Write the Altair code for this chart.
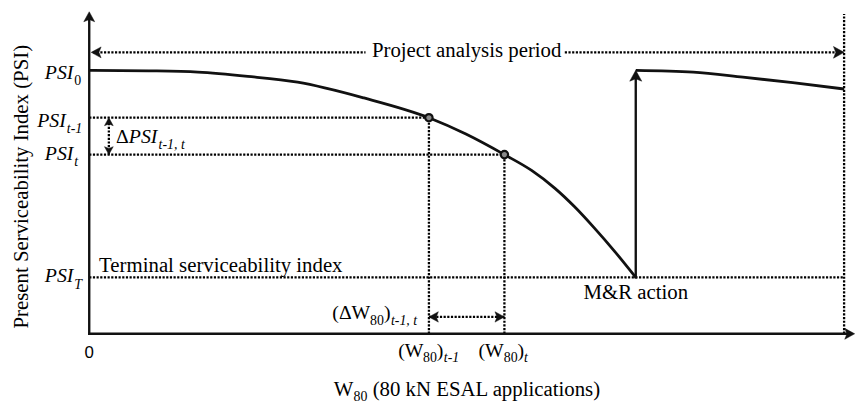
import altair as alt
import pandas as pd

# ------------------------------------------------------------------
# Values (schematic, arbitrary units)
# W80 axis: 0 = origin, 100 = end of the project analysis period
# PSI axis: 0 = the W80 axis, 100 = PSI0
# ------------------------------------------------------------------
w_decay = [0, 7.9, 14.4, 21.0, 27.6, 36.4, 45.0, 49.9, 55.0, 58.6, 61.7, 64.3, 66.9, 69.6, 72.4]
psi_decay = [100, 99.8, 99.3, 97.7, 95.5, 89.5, 82.0, 75.8, 68.0, 62.0, 55.2, 48.2, 40.2, 31.3, 21.4]
w_renewed = [72.4, 80.0, 86.6, 93.2, 100.0]
psi_renewed = [100, 99.3, 97.4, 95.3, 92.9]

psi_0, psi_t1, psi_t, psi_T = 100.0, 82.0, 68.0, 21.4
w_t1, w_t, w_mr, w_end = 45.0, 55.0, 72.4, 100.0
period_level = 106.8   # height of the "Project analysis period" arrow
period_gap = [36.6, 63.0]  # where the label interrupts the arrow
dw_level = 6.4         # height of the delta-W arrow
dpsi_at = 2.6          # position of the delta-PSI arrow
y_axis_top = 122.2
x_axis_end = 101.4

x_domain = [-10.761, 101.444]
y_domain = [-26.692, 122.932]

SERIF = "Liberation Serif"
INK = "#111111"

xs = alt.Scale(domain=x_domain, nice=False, zero=False)
ys = alt.Scale(domain=y_domain, nice=False, zero=False)


def enc_xy(ch):
    return ch.encode(
        x=alt.X("x:Q", scale=xs, axis=None),
        y=alt.Y("y:Q", scale=ys, axis=None),
    )


# ---- curves ----
curve1 = pd.DataFrame({"x": w_decay, "y": psi_decay})
curve2 = pd.DataFrame({"x": w_renewed, "y": psi_renewed})
line1 = enc_xy(alt.Chart(curve1).mark_line(color=INK, strokeWidth=2.8, interpolate="monotone"))
line2 = enc_xy(alt.Chart(curve2).mark_line(color=INK, strokeWidth=2.8, interpolate="monotone"))

# ---- rules ----
solid = pd.DataFrame([
    {"x": 0, "x2": 0, "y": 0, "y2": y_axis_top - 3},
    {"x": 0, "x2": x_axis_end - 1, "y": 0, "y2": 0},
    {"x": w_mr, "x2": w_mr, "y": psi_T, "y2": psi_0 - 3},
])
dotted = pd.DataFrame([
    {"x": 0.5, "x2": period_gap[0], "y": period_level, "y2": period_level},
    {"x": period_gap[1], "x2": w_end - 0.5, "y": period_level, "y2": period_level},
    {"x": 0, "x2": w_t1, "y": psi_t1, "y2": psi_t1},
    {"x": 0, "x2": w_t, "y": psi_t, "y2": psi_t},
    {"x": 0, "x2": w_end, "y": psi_T, "y2": psi_T},
    {"x": w_t1, "x2": w_t1, "y": 0, "y2": psi_t1},
    {"x": w_t, "x2": w_t, "y": 0, "y2": psi_t},
    {"x": w_end, "x2": w_end, "y": 0, "y2": y_axis_top - 0.8},
    {"x": dpsi_at, "x2": dpsi_at, "y": psi_t, "y2": psi_t1},
    {"x": w_t1, "x2": w_t, "y": dw_level, "y2": dw_level},
])


def rules(df, color, **kw):
    return alt.Chart(df).mark_rule(color=color, **kw).encode(
        x=alt.X("x:Q", scale=xs, axis=None),
        x2="x2:Q",
        y=alt.Y("y:Q", scale=ys, axis=None),
        y2="y2:Q",
    )


solid_rules = rules(solid, INK, strokeWidth=2.4, strokeCap="square")
dotted_rules = rules(dotted, "#000000", strokeWidth=2.3, strokeDash=[2.2, 1.5])

# ---- arrowheads (tip at the point, pointing up at angle 0) ----
heads = pd.DataFrame([
    {"x": 0, "y": y_axis_top, "angle": 0, "size": 400},
    {"x": x_axis_end, "y": 0, "angle": 90, "size": 400},
    {"x": 0.26, "y": period_level, "angle": 270, "size": 400},
    {"x": w_end, "y": period_level, "angle": 90, "size": 460},
    {"x": dpsi_at, "y": psi_t1, "angle": 0, "size": 256},
    {"x": dpsi_at, "y": psi_t, "angle": 180, "size": 256},
    {"x": w_t1, "y": dw_level, "angle": 270, "size": 361},
    {"x": w_t, "y": dw_level, "angle": 90, "size": 361},
    {"x": w_mr, "y": psi_0, "angle": 0, "size": 484},
])
arrowheads = alt.Chart(heads).mark_point(
    shape="M0,0L0.55,1L0,0.78L-0.55,1Z", filled=True, fill=INK, stroke=INK,
    strokeWidth=0.5, opacity=1,
).encode(
    x=alt.X("x:Q", scale=xs, axis=None),
    y=alt.Y("y:Q", scale=ys, axis=None),
    angle=alt.Angle("angle:Q", scale=None),
    size=alt.Size("size:Q", scale=None),
)

# ---- the two marked states ----
states = pd.DataFrame({"x": [w_t1, w_t], "y": [psi_t1, psi_t]})
state_pts = enc_xy(alt.Chart(states).mark_point(
    shape="circle", filled=True, fill="#8a8a8a", stroke=INK, strokeWidth=2.2,
    size=55, opacity=1,
))

# ---- text pieces: (text, x, y, style, align) ----
pieces = [
    # PSI labels at the left
    ("PSI", -2.10, 96.62, "it20", "right"), ("0", -1.97, 94.36, "rm14", "left"),
    ("PSI", -3.10, 78.57, "it20", "right"), ("t-1", -2.97, 76.32, "it14", "left"),
    ("PSI", -2.10, 65.79, "it20", "right"), ("t", -1.97, 63.53, "it14", "left"),
    ("PSI", -2.10, 19.55, "it20", "right"), ("T", -1.97, 16.92, "it14", "left"),
    # delta PSI
    ("\u0394", 3.54, 72.56, "rm20", "left"), ("PSI", 5.25, 72.56, "it20", "left"),
    ("t-1, t", 9.19, 70.30, "it14", "left"),
    # annotations
    ("Terminal serviceability index", 1.31, 23.31, "rm21", "left"),
    ("M&R action", w_mr, 13.16, "rm21", "center"),
    ("Project analysis period", 50.0, 104.89, "rm21", "center"),
    # W80 tick labels
    ("0", 0.0, -9.02, "sans17", "center"),
    ("(W", 40.94, -8.65, "rm20", "left"), ("80", 44.23, -10.53, "rm14", "left"),
    (")", 46.05, -8.65, "rm20", "left"), ("t-1", 46.97, -10.53, "it14", "left"),
    ("(W", 51.57, -8.65, "rm20", "left"), ("80", 54.92, -10.53, "rm14", "left"),
    (")", 56.75, -8.65, "rm20", "left"), ("t", 57.60, -10.53, "it14", "left"),
    # delta W
    ("(\u0394W", 32.20, 5.64, "rm20", "left"), ("80", 37.20, 3.38, "rm14", "left"),
    (")", 39.05, 5.64, "rm20", "left"), ("t-1, t", 39.97, 3.38, "it14", "left"),
    # W80 axis title
    ("W", 32.40, -23.68, "rm21", "left"), ("80", 35.02, -25.56, "rm14", "left"),
    ("(80 kN ESAL applications)", 37.55, -23.68, "rm21", "left"),
]
text_df = pd.DataFrame(pieces, columns=["text", "x", "y", "style", "align"])

styles = {
    "it20": dict(font=SERIF, fontStyle="italic", fontSize=20),
    "rm20": dict(font=SERIF, fontSize=20),
    "rm21": dict(font=SERIF, fontSize=21),
    "it14": dict(font=SERIF, fontStyle="italic", fontSize=14),
    "rm14": dict(font=SERIF, fontSize=14),
    "sans17": dict(font="Liberation Sans", fontSize=17),
}

text_layers = []
for (style, align), sub in text_df.groupby(["style", "align"]):
    text_layers.append(
        alt.Chart(sub).mark_text(
            align=align, baseline="alphabetic", color="#000000", **styles[style]
        ).encode(
            x=alt.X("x:Q", scale=xs, axis=None),
            y=alt.Y("y:Q", scale=ys, axis=None),
            text="text:N",
        )
    )

ytitle_df = pd.DataFrame({"x": [-8.14], "y": [55.83],
                          "text": ["Present Serviceability Index (PSI)"]})
ytitle = alt.Chart(ytitle_df).mark_text(
    angle=270, align="center", baseline="alphabetic", font=SERIF, fontSize=21,
    color="#000000",
).encode(
    x=alt.X("x:Q", scale=xs, axis=None),
    y=alt.Y("y:Q", scale=ys, axis=None),
    text="text:N",
)

chart = alt.layer(
    dotted_rules, solid_rules, line1, line2, arrowheads, state_pts, ytitle, *text_layers
).properties(
    width=855, height=398, padding=0,
    autosize=alt.AutoSizeParams(type="none"),
    background="white",
).configure_view(stroke=None)

chart.save("out.html", embed_options={"renderer": "svg", "actions": False})
